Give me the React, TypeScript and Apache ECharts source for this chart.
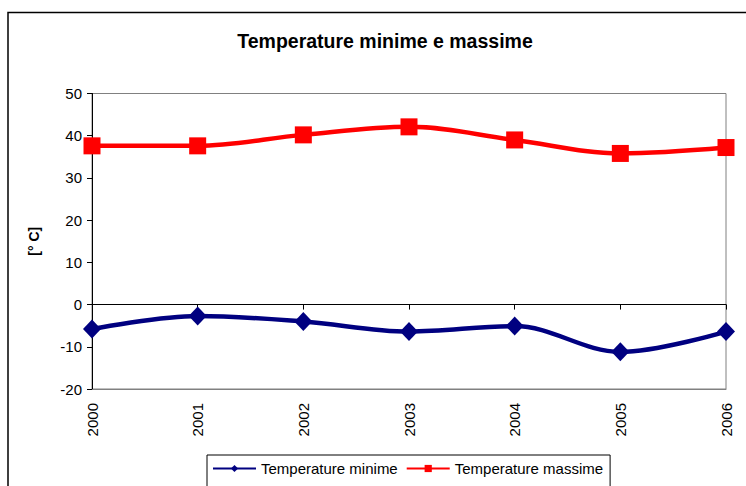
import React, { useEffect, useRef } from "react";
import * as echarts from "echarts";

const years = ["2000", "2001", "2002", "2003", "2004", "2005", "2006"];
const tempMin = [-5.8, -2.7, -4.0, -6.4, -5.1, -11.2, -6.4];
const tempMax = [37.6, 37.6, 40.2, 42.1, 39.0, 35.8, 37.2];
const yTicks = { min: -20, max: 50, interval: 10 };

export default function App() {
  const ref = useRef<HTMLDivElement>(null);
  useEffect(() => {
    if (!ref.current) return;
    const chart = echarts.init(ref.current, null, { renderer: "svg" });
    const font = "Arial, 'Liberation Sans', sans-serif";
    chart.setOption({
      animation: false,
      backgroundColor: "#fff",
      textStyle: { fontFamily: font },
      title: {
        text: "Temperature minime e massime",
        left: 380,
        textAlign: "center",
        top: 26,
        textStyle: { fontFamily: font, fontSize: 19.5, fontWeight: "bold", color: "#000" },
      },
      graphic: [
        {
          type: "rect",
          shape: { x: 8, y: 12.5, width: 800, height: 600 },
          style: { fill: "none", stroke: "#000", lineWidth: 1.5 },
          silent: true,
          z: 0,
        },
      ],
      grid: {
        left: 92,
        top: 93.5,
        right: 20,
        bottom: 97,
        show: true,
        borderColor: "#808080",
        borderWidth: 1,
        backgroundColor: "transparent",
      },
      legend: {
        left: 207,
        top: 455,
        orient: "horizontal",
        itemWidth: 43,
        itemHeight: 9,
        itemGap: 8,
        padding: [6, 7, 12, 5],
        borderColor: "#000",
        borderWidth: 1,
        textStyle: { fontFamily: font, fontSize: 15, color: "#000" },
        data: ["Temperature minime", "Temperature massime"],
      },
      xAxis: [
        {
          type: "category",
          data: years,
          boundaryGap: false,
          position: "bottom",
          axisLine: { onZero: false, lineStyle: { color: "#808080", width: 1 } },
          axisTick: { show: false },
          axisLabel: { rotate: 90, margin: 14, fontSize: 15, color: "#000", fontFamily: font },
          splitLine: { show: false },
        },
        {
          type: "category",
          data: years,
          boundaryGap: false,
          position: "bottom",
          axisLine: { onZero: true, lineStyle: { color: "#000", width: 1 } },
          axisTick: { show: true, length: 5, lineStyle: { color: "#000" } },
          axisLabel: { show: false },
          splitLine: { show: false },
        },
      ],
      yAxis: {
        type: "value",
        min: yTicks.min,
        max: yTicks.max,
        interval: yTicks.interval,
        name: "[° C]",
        nameLocation: "middle",
        nameGap: 51,
        nameRotate: 90,
        nameTextStyle: { fontFamily: font, fontSize: 14, fontWeight: "bold", color: "#000" },
        axisLine: { show: true, lineStyle: { color: "#000", width: 1 } },
        axisTick: { show: true, length: 5, lineStyle: { color: "#000" } },
        axisLabel: { margin: 10, fontSize: 15, color: "#000", fontFamily: font },
        splitLine: { show: false },
      },
      series: [
        {
          name: "Temperature minime",
          type: "line",
          xAxisIndex: 0,
          data: tempMin,
          smooth: 0.35,
          symbol: "diamond",
          symbolSize: [18, 19],
          lineStyle: { color: "#000080", width: 4.5 },
          itemStyle: { color: "#000080" },
          z: 3,
        },
        {
          name: "Temperature massime",
          type: "line",
          xAxisIndex: 0,
          data: tempMax,
          smooth: 0.35,
          symbol: "rect",
          symbolSize: 17,
          lineStyle: { color: "#FF0000", width: 4.5 },
          itemStyle: { color: "#FF0000" },
          z: 3,
        },
      ],
    });
    return () => chart.dispose();
  }, []);
  return (
    <div
      ref={ref}
      style={{ position: "absolute", left: 0, top: 0, width: 746, height: 486 }}
    />
  );
}
